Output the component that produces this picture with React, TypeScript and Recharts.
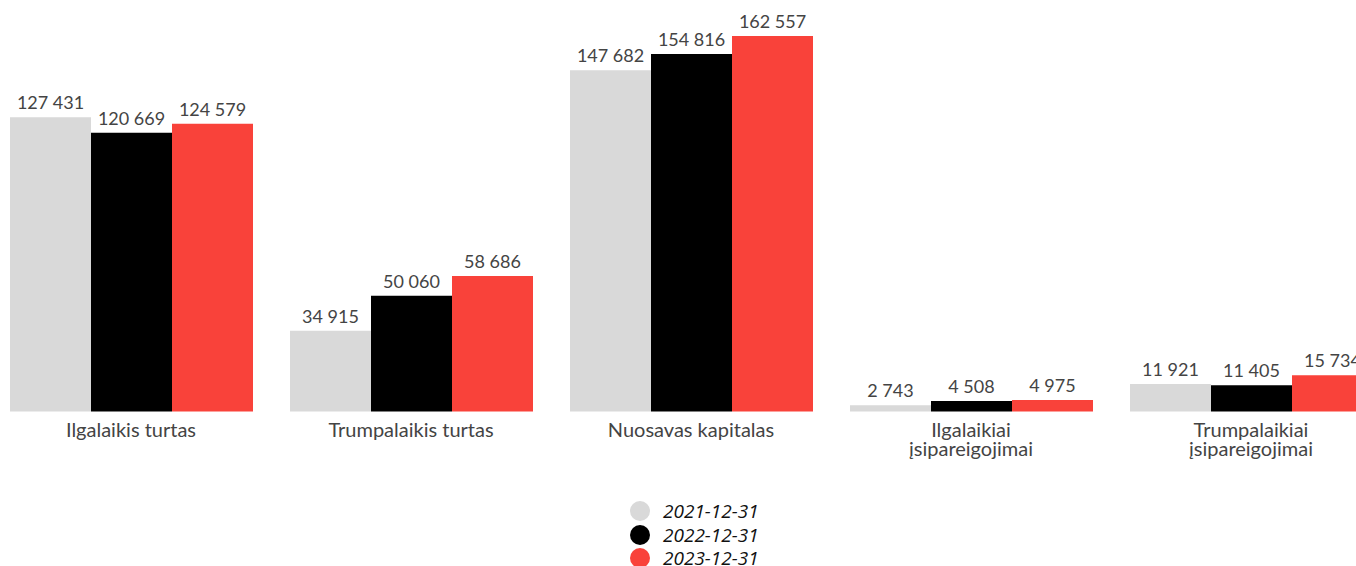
import { Bar, BarChart, LabelList, Legend, XAxis, YAxis } from "recharts";

const categories = [
  "Ilgalaikis turtas",
  "Trumpalaikis turtas",
  "Nuosavas kapitalas",
  "Ilgalaikiai\nįsipareigojimai",
  "Trumpalaikiai\nįsipareigojimai",
];
const values2021 = [127431, 34915, 147682, 2743, 11921];
const values2022 = [120669, 50060, 154816, 4508, 11405];
const values2023 = [124579, 58686, 162557, 4975, 15734];

const seriesNames = ["2021-12-31", "2022-12-31", "2023-12-31"];
const seriesColors = ["#d9d9d9", "#000000", "#f9423a"];

const data = categories.map((name, i) => ({
  name,
  s0: values2021[i],
  s1: values2022[i],
  s2: values2023[i],
}));

const fmt = (v: number) => String(v).replace(/\B(?=(\d{3})+(?!\d))/g, " ");

function CategoryTick({ x, y, payload }: any) {
  const lines = String(payload.value).split("\n");
  return (
    <text x={x} y={y} textAnchor="middle" fill="#444" fontSize={20} fontFamily="Lato">
      {lines.map((l, i) => (
        <tspan key={i} x={x} dy={i === 0 ? 17 : 19}>
          {l}
        </tspan>
      ))}
    </text>
  );
}

function LegendBox() {
  return (
    <div style={{ display: "flex", flexDirection: "column", alignItems: "flex-start", marginLeft: 639 }}>
      {seriesNames.map((n, i) => (
        <div key={n} style={{ display: "flex", alignItems: "center", height: 23.5 }}>
          <span
            style={{
              width: 20,
              height: 20,
              borderRadius: 10,
              background: seriesColors[i],
              display: "inline-block",
              marginRight: 13,
            }}
          />
          <span style={{ fontFamily: "Open Sans", fontStyle: "italic", fontSize: 19, color: "#111" }}>{n}</span>
        </div>
      ))}
    </div>
  );
}

export default function App() {
  return (
    <div style={{ width: 1356, height: 566, overflow: "hidden", position: "relative" }}>
      <style>{`body{margin:0;overflow:hidden}`}</style>
      <div style={{ position: "absolute", left: -9, top: 0 }}>
        <BarChart
          width={1400}
          height={566}
          data={data}
          margin={{ top: 36, right: 0, bottom: 0, left: 0 }}
          barCategoryGap={19}
          barGap={0}
        >
          <XAxis dataKey="name" axisLine={false} tickLine={false} tick={<CategoryTick />} interval={0} height={84} />
          <YAxis hide domain={[0, "dataMax"]} />
          <Legend
            verticalAlign="bottom"
            content={() => <LegendBox />}
            wrapperStyle={{ left: 0, width: 1400, bottom: -4 }}
          />
          {["s0", "s1", "s2"].map((k, i) => (
            <Bar key={k} dataKey={k} fill={seriesColors[i]} isAnimationActive={false} name={seriesNames[i]}>
              <LabelList
                dataKey={k}
                position="top"
                offset={8}
                formatter={(v: any) => fmt(Number(v))}
                fill="#444"
                fontSize={18}
                fontFamily="Lato"
              />
            </Bar>
          ))}
        </BarChart>
      </div>
    </div>
  );
}
